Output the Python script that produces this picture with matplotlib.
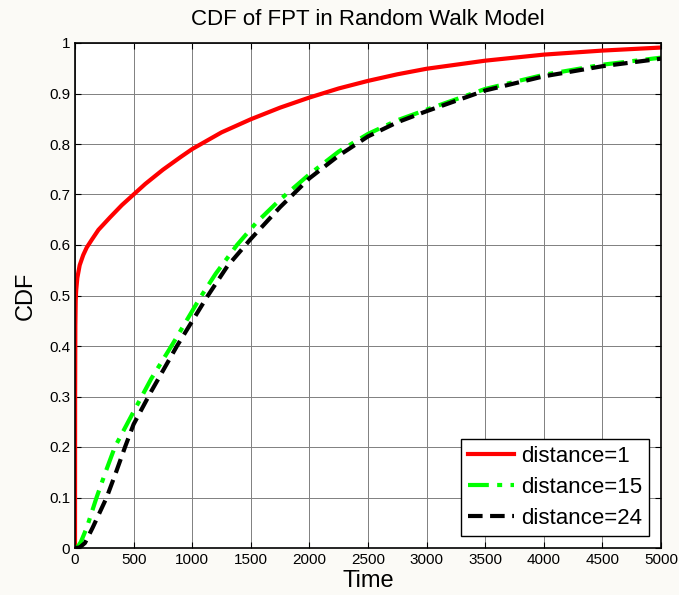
import numpy as np
import matplotlib.pyplot as plt

plt.rcParams['font.family'] = ['Liberation Sans', 'DejaVu Sans']

# CDF curves
t_d1 = [0, 1, 3, 6, 10, 20, 40, 70, 100, 142, 200, 300, 400, 500, 600, 750, 900,
        1000, 1250, 1500, 1750, 2000, 2250, 2500, 2750, 3000, 3500, 4000, 4500, 5000]
cdf_d1 = [0, 0.30, 0.44, 0.49, 0.51, 0.535, 0.56, 0.58, 0.595, 0.61, 0.63, 0.655, 0.679,
          0.70, 0.721, 0.749, 0.774, 0.79, 0.823, 0.849, 0.872, 0.892, 0.91, 0.925, 0.938,
          0.949, 0.965, 0.977, 0.985, 0.991]

t_d15 = [0, 25, 50, 100, 184, 260, 340, 500, 650, 836, 1066, 1200, 1382, 1550, 1750,
         2000, 2250, 2500, 2750, 3000, 3500, 4000, 4500, 5000]
cdf_d15 = [0, 0.003, 0.012, 0.04, 0.10, 0.15, 0.20, 0.27, 0.335, 0.405, 0.495, 0.543, 0.60,
           0.645, 0.69, 0.74, 0.785, 0.82, 0.847, 0.868, 0.909, 0.937, 0.957, 0.971]

t_d24 = [0, 40, 85, 150, 270, 350, 427, 500, 650, 870, 1126, 1300, 1500, 1750, 2000,
         2250, 2500, 2750, 3000, 3500, 4000, 4500, 5000]
cdf_d24 = [0, 0.001, 0.01, 0.04, 0.10, 0.15, 0.20, 0.245, 0.31, 0.40, 0.497, 0.558, 0.612,
           0.675, 0.732, 0.777, 0.815, 0.843, 0.865, 0.906, 0.934, 0.954, 0.969]

bg = '#fbfaf6'
fig = plt.figure(figsize=(6.79, 5.95), dpi=100, facecolor=bg)
ax = fig.add_axes([75 / 679, 47 / 595, 586 / 679, 505 / 595])

ax.plot(t_d1, cdf_d1, color='red', lw=3, label='distance=1')
ax.plot(t_d15, cdf_d15, color='#00ff00', lw=3, ls=(0, (5, 2, 1.2, 2)), label='distance=15')
ax.plot(t_d24, cdf_d24, color='black', lw=3, ls=(0, (3.5, 1.8)), label='distance=24')

ax.set_xlim(0, 5000)
ax.set_ylim(0, 1)
ax.set_xticks(np.arange(0, 5001, 500))
ax.set_yticks(np.arange(0, 1.01, 0.1))
ax.set_yticklabels(['0', '0.1', '0.2', '0.3', '0.4', '0.5', '0.6', '0.7', '0.8', '0.9', '1'])
ax.grid(True, color='#808080', lw=0.7)
ax.tick_params(direction='in', labelsize=11, length=4, top=True, right=True)
for s in ax.spines.values():
    s.set_linewidth(1.2)

ax.set_title('CDF of FPT in Random Walk Model', fontsize=16, pad=13)
ax.set_xlabel('Time', fontsize=17, labelpad=2)
ax.set_ylabel('CDF', fontsize=17, labelpad=9)

leg = ax.legend(loc='lower right', fontsize=16, fancybox=False, framealpha=1,
                edgecolor='black', handlelength=2.1, handletextpad=0.3,
                borderaxespad=0.55, labelspacing=0.45, borderpad=0.3)
leg.get_frame().set_linewidth(1.0)

fig.savefig('out.png', dpi=100, facecolor=bg)
